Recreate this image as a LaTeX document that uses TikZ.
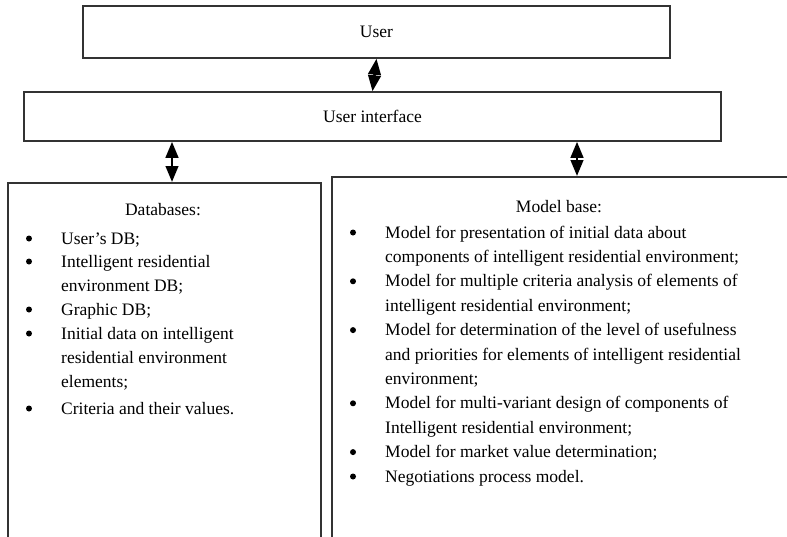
\documentclass[tikz,border=0pt]{standalone}
\usepackage{fontspec}
\setmainfont{Liberation Serif}
\usetikzlibrary{arrows.meta}

\tikzset{
  frame/.style={draw=black!80, line width=1.5pt, fill=white, inner sep=0pt},
  label text/.style={font=\fontsize{17.5}{24.4}\selectfont, inner sep=0pt},
  % multi-line entries are anchored at the baseline of their last line
  entry/.style={font=\fontsize{17.5}{24.4}\selectfont, inner sep=0pt,
    align=left, anchor=base west},
  biarrow/.style={line width=2.6pt,
    {Triangle[length=16pt,width=12.5pt]}-{Triangle[length=16pt,width=12.5pt]}},
}

\begin{document}
\begin{tikzpicture}[x=1pt, y=-1pt]
  \useasboundingbox (0,0) rectangle (787,536);
  \clip (0,0) rectangle (787,536);

  % top row: user and interface
  \node[frame, minimum width=587pt, minimum height=52pt] (user) at (376.5,32) {};
  \node[label text] (usertxt) at (user.center) {User};
  \node[frame, minimum width=697pt, minimum height=49pt] (ui) at (372.5,116.5) {};
  \node[label text] (uitxt) at (ui.center) {User interface};

  % lower boxes, running past the page edges
  \node[frame, minimum width=313pt, minimum height=400pt, anchor=north west] (db) at (7,182) {};
  \node[frame, minimum width=480pt, minimum height=400pt, anchor=north west] (mb) at (331,176) {};

  % arrows
  \draw[biarrow] (user.south) -- (ui.north);
  \coordinate (dbx) at (172,0);
  \coordinate (mbx) at (577,0);
  \draw[biarrow] (ui.south -| dbx) -- (db.north -| dbx);
  \draw[biarrow] (ui.south -| mbx) -- (mb.north -| mbx);

  % databases list
  \node[label text, anchor=base] (dbtitle) at (163,215) {Databases:};
  \node[entry] (d1) at (61,244) {User’s DB;};
  \node[entry] (d2) at (61,291.4) {Intelligent residential\\environment DB;};
  \node[entry] (d3) at (61,315) {Graphic DB;};
  \node[entry] (d4) at (61,387.8) {Initial data on intelligent\\residential environment\\elements;};
  \node[entry] (d5) at (61,414) {Criteria and their values.};
  \foreach \y in {244,267,315,339,414}
    \fill (29,\y-5.5) circle (3pt);

  % model base list
  \node[label text, anchor=base] (mbtitle) at (559,212) {Model base:};
  \node[entry] (m1) at (385,262.4) {Model for presentation of initial data about\\components of intelligent residential environment;};
  \node[entry] (m2) at (385,311.2) {Model for multiple criteria analysis of elements of\\intelligent residential environment;};
  \node[entry] (m3) at (385,384.4) {Model for determination of the level of usefulness\\and priorities for elements of intelligent residential\\environment;};
  \node[entry] (m4) at (385,433.2) {Model for multi-variant design of components of\\Intelligent residential environment;};
  \node[entry] (m5) at (385,457.6) {Model for market value determination;};
  \node[entry] (m6) at (385,482) {Negotiations process model.};
  \foreach \y in {238,286.8,335.6,408.8,457.6,482}
    \fill (353,\y-5.5) circle (3pt);
\end{tikzpicture}
\end{document}
